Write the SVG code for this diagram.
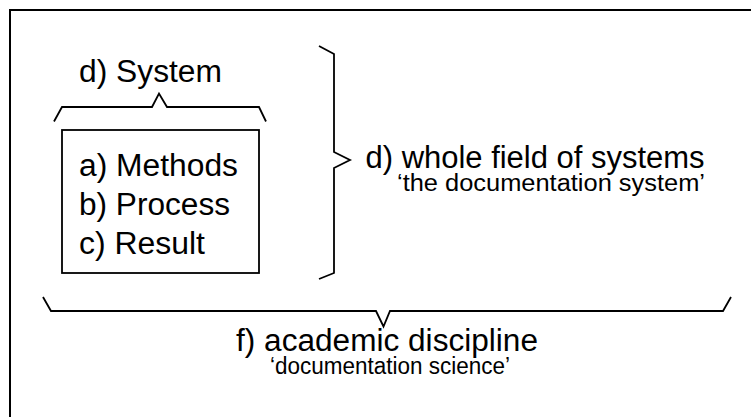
<svg xmlns="http://www.w3.org/2000/svg" width="751" height="417" viewBox="0 0 751 417">
<style>
.ln{fill:none;stroke:#000;stroke-width:1.8;stroke-linejoin:miter}
.bd{fill:none;stroke:#000;stroke-width:2}
.t{font-family:"Liberation Sans",Arial,sans-serif;font-size:31px;fill:#000}
.s{font-family:"Liberation Sans",Arial,sans-serif;font-size:23px;fill:#000}
</style>
<rect width="751" height="417" fill="#fff"/>
<path id="frame" class="bd" d="M10,417 V10 H751"/>
<g id="system">
<text class="t" x="79" y="82" textLength="143" lengthAdjust="spacingAndGlyphs">d) System</text>
</g>
<g id="box">
<rect class="ln" x="62" y="130" width="197" height="143"/>
<text class="t" x="79" y="176" textLength="159" lengthAdjust="spacingAndGlyphs">a) Methods</text>
<text class="t" x="79" y="214.5" textLength="151" lengthAdjust="spacingAndGlyphs">b) Process</text>
<text class="t" x="79" y="253.5" textLength="126" lengthAdjust="spacingAndGlyphs">c) Result</text>
</g>
<g id="field">
<text class="t" x="365.5" y="168" textLength="339" lengthAdjust="spacingAndGlyphs">d) whole field of systems</text>
<text class="s" x="397" y="191" textLength="308" lengthAdjust="spacingAndGlyphs">‘the documentation system’</text>
</g>
<g id="discipline">
<text class="t" x="236" y="351" textLength="302" lengthAdjust="spacingAndGlyphs">f) academic discipline</text>
<text class="s" x="270" y="374" textLength="240" lengthAdjust="spacingAndGlyphs">‘documentation science’</text>
</g>
<g id="connectors">
<polyline class="ln" points="54,121.5 62,107 152,107 159,93.5 167,107 259,107 266,121.5"/>
<polyline class="ln" points="319,46 334,54 334,152 350,160 334,168 334,273 319,279"/>
<polyline class="ln" points="43,297 51,311 376,311 383.5,326.5 390,311 723,311 731,297"/>
</g>
</svg>
